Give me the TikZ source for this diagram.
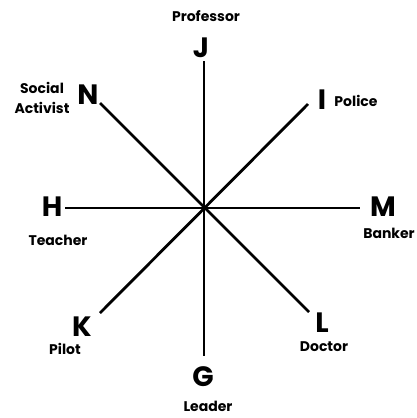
\documentclass[tikz,border=0pt]{standalone}
\usepackage{fontspec}
\setmainfont{Poppins}
\begin{document}
\begin{tikzpicture}[x=1pt,y=-1pt,
  letter/.style={inner sep=0pt,font=\fontsize{28}{30}\selectfont\bfseries},
  lab/.style={inner sep=0pt,align=center,font=\fontsize{14}{20}\selectfont\bfseries},
  spoke/.style={line width=2.8pt}]
\useasboundingbox (0,0) rectangle (416,418);
\fill[white] (0,0) rectangle (416,418);
% letters
\node[letter] (J) at (201,48) {J};
\node[letter] (N) at (88,95) {N};
\node[letter] (I) at (322,100) {I};
\node[letter] (H) at (52,207) {H};
\node[letter] (M) at (383,207) {M};
\node[letter] (K) at (82,327) {K};
\node[letter] (G) at (203,377) {G};
\node[letter] (L) at (322,323) {L};
% labels
\node[lab] (pJ) at (206,16) {Professor};
\node[lab] (pN) at (42,98) {Social\\Activist};
\node[lab] (pI) at (356,101) {Police};
\node[lab] (pH) at (58,240) {Teacher};
\node[lab] (pM) at (389,233) {Banker};
\node[lab] (pK) at (65,349) {Pilot};
\node[lab] (pG) at (208,406) {Leader};
\node[lab] (pL) at (324,347) {Doctor};
% line ends
\coordinate (c) at (204,208);
\coordinate (eJ) at (204,61);
\coordinate (eG) at (204,356);
\coordinate (eH) at (65,208);
\coordinate (eM) at (360,208);
\coordinate (eN) at (100,103);
\coordinate (eL) at (309,312);
\coordinate (eI) at (308,104);
\coordinate (eK) at (100,313);
\draw[spoke] (eJ) -- (eG);
\draw[spoke] (eH) -- (eM);
\draw[spoke] (eN) -- (eL);
\draw[spoke] (eI) -- (eK);
\end{tikzpicture}
\end{document}
